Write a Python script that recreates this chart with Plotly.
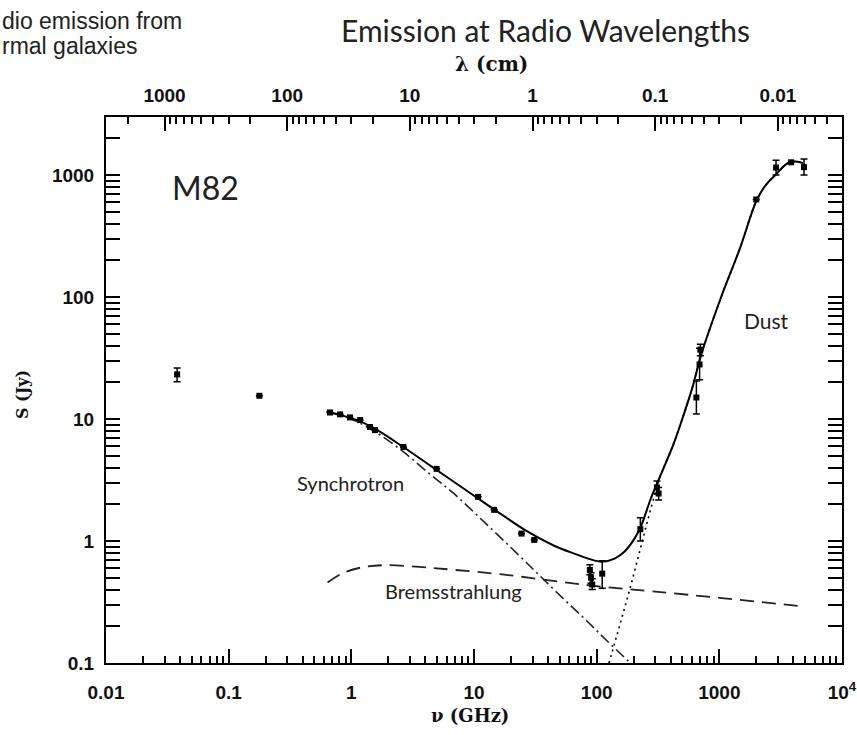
import plotly.graph_objects as go
import math

# ---------------- data ----------------
nu_obs = [0.038, 0.178, 0.67, 0.81, 0.975, 1.18, 1.42, 1.56, 2.66, 4.96, 10.8, 14.6,
          24.4, 31.0, 88, 90, 92, 111, 227, 310, 320, 650, 690, 700, 2000, 2900, 3850, 4900]
s_obs = [23.2, 15.5, 11.3, 10.9, 10.3, 9.8, 8.6, 8.1, 5.9, 3.9, 2.3, 1.8,
         1.15, 1.02, 0.58, 0.50, 0.44, 0.54, 1.25, 2.75, 2.45, 15.0, 28.0, 37.0, 630, 1150, 1270, 1160]
err_plus = [3.0, 0, 0, 0, 0, 0, 0, 0, 0, 0, 0, 0,
            0, 0, 0.06, 0.05, 0.05, 0.15, 0.3, 0.35, 0.3, 5.5, 10, 4, 0, 170, 0, 190]
err_minus = [3.0, 0, 0, 0, 0, 0, 0, 0, 0, 0, 0, 0,
             0, 0, 0.05, 0.05, 0.04, 0.13, 0.25, 0.3, 0.28, 4.0, 7, 4, 0, 150, 0, 160]

nu_total = [0.63, 0.889, 1.18, 1.63, 2.65, 4.43, 6.84, 10.8, 17.7, 27.9, 45.5, 66.4, 86.3,
            110, 140, 169, 204, 231, 277, 332, 420, 502, 601, 719, 1030, 1480, 2010, 2415,
            2900, 3490, 3970, 4810]
s_total = [11.5, 10.5, 9.57, 8.09, 5.89, 4.13, 3.06, 2.23, 1.59, 1.18, 0.91, 0.785, 0.714,
           0.676, 0.718, 0.82, 1.05, 1.34, 2.24, 3.46, 6.1, 10.2, 17.9, 34.8, 98.5, 254, 617, 836,
           1011, 1222, 1295, 1250]

nu_sync = [0.63, 0.975, 1.63, 2.66, 4.43, 6.87, 12.2, 23.2, 34, 52.6, 81.3, 119, 188]
s_sync = [11.5, 10.1, 7.65, 5.37, 3.49, 2.44, 1.42, 0.765, 0.525, 0.342, 0.226, 0.155, 0.1]

nu_brems = [0.64, 0.84, 1.22, 1.88, 3.57, 6.63, 17, 52, 111, 284, 1000, 5000]
s_brems = [0.457, 0.542, 0.608, 0.634, 0.613, 0.582, 0.532, 0.461, 0.422, 0.387, 0.342, 0.29]

nu_dust = [126, 154, 184, 220, 263, 303, 332, 420, 502, 601, 719, 1030, 1480, 2010, 2415,
           2900, 3490, 3970, 4810]
s_dust = [0.1, 0.203, 0.385, 0.762, 1.53, 2.55, 3.46, 6.1, 10.2, 17.9, 34.8, 98.5, 254, 617,
          836, 1011, 1222, 1295, 1250]

nu_ticks = [0.01, 0.1, 1, 10, 100, 1000, 10000]
nu_ticktext = ["0.01", "0.1", "1", "10", "100", "1000", "10<sup>4</sup>"]
s_ticks = [0.1, 1, 10, 100, 1000]
s_ticktext = ["0.1", "1", "10", "100", "1000"]
lam_ticks = [1000, 100, 10, 1, 0.1, 0.01]
lam_ticktext = ["1000", "100", "10", "1", "0.1", "0.01"]

# ---------------- layout geometry ----------------
W, H = 857, 735
L, R, T, B = 106, 15, 117, 72
pw, ph = W - L - R, H - T - B


def px(x):
    return (x - L) / pw


def py(y):
    return (H - B - y) / ph


def minor_vals(e0, e1):
    return [m * 10.0 ** e for e in range(e0, e1) for m in range(2, 10)]


fig = go.Figure()

fig.add_trace(go.Scatter(x=nu_dust, y=s_dust, mode="lines", line_shape="spline",
                         line=dict(color="black", width=1.6, dash="2px,4px"),
                         hoverinfo="skip", showlegend=False))
fig.add_trace(go.Scatter(x=nu_brems, y=s_brems, mode="lines", line_shape="spline",
                         line=dict(color="#222", width=1.8, dash="14px,8px"),
                         hoverinfo="skip", showlegend=False))
fig.add_trace(go.Scatter(x=nu_sync, y=s_sync, mode="lines", line_shape="spline",
                         line=dict(color="#222", width=1.6, dash="11px,4px,2px,4px"),
                         hoverinfo="skip", showlegend=False))
fig.add_trace(go.Scatter(x=nu_total, y=s_total, mode="lines", line_shape="spline",
                         line=dict(color="black", width=2),
                         hoverinfo="skip", showlegend=False))
fig.add_trace(go.Scatter(x=nu_obs, y=s_obs, mode="markers",
                         marker=dict(symbol="square", size=6, color="black"),
                         error_y=dict(type="data", array=err_plus, arrayminus=err_minus,
                                      color="black", thickness=1.5, width=3.5),
                         hoverinfo="skip", showlegend=False))
# invisible trace to carry the top (wavelength) axis
fig.add_trace(go.Scatter(x=lam_ticks, y=[1] * len(lam_ticks), xaxis="x2", mode="markers",
                         marker=dict(opacity=0), hoverinfo="skip", showlegend=False))

tickfont = dict(family="Liberation Sans, Arial, sans-serif", size=19, color="#111",
                weight="bold")
axis_common = dict(showgrid=False, zeroline=False, showline=True, linecolor="black",
                   linewidth=2, ticks="inside", ticklen=14, tickwidth=2, tickcolor="black",
                   tickfont=tickfont, type="log", automargin=False)

fig.update_layout(
    width=W, height=H, margin=dict(l=L, r=R, t=T, b=B, pad=0, autoexpand=False),
    paper_bgcolor="white", plot_bgcolor="white", showlegend=False,
    xaxis=dict(axis_common, range=[-2, 4], tickmode="array", tickvals=nu_ticks,
               ticktext=nu_ticktext, mirror=True, ticklabelstandoff=11,
               minor=dict(ticks="inside", ticklen=7, tickwidth=1.5, tickcolor="black",
                          tickvals=minor_vals(-2, 4))),
    xaxis2=dict(axis_common, overlaying="x", side="top",
                range=[math.log10(3000), math.log10(0.003)], tickmode="array",
                tickvals=lam_ticks, ticktext=lam_ticktext, ticklabelstandoff=5,
                minor=dict(ticks="inside", ticklen=7, tickwidth=1.5, tickcolor="black",
                           tickvals=minor_vals(-3, 4))),
    yaxis=dict(axis_common, range=[-1, 3.475], tickmode="array", tickvals=s_ticks,
               ticktext=s_ticktext, mirror="allticks", ticklabelstandoff=6,
               minor=dict(ticks="inside", ticklen=7, tickwidth=1.5, tickcolor="black",
                          tickvals=minor_vals(-1, 4))),
)

gill = "Lato, 'Open Sans', sans-serif"
serif = "'DejaVu Serif', serif"
ann = [
    dict(text="M82", x=px(205), y=py(187), font=dict(family=gill, size=32, color="#222")),
    dict(text="Dust", x=px(766), y=py(320), font=dict(family=gill, size=21, color="#222")),
    dict(text="Synchrotron", x=px(350), y=py(483), font=dict(family=gill, size=20, color="#222")),
    dict(text="Bremsstrahlung", x=px(453), y=py(591), font=dict(family=gill, size=20, color="#222")),
    dict(text="Emission at Radio Wavelengths", x=px(545), y=py(30),
         font=dict(family=gill, size=30, color="#222")),
    dict(text="<b>λ (cm)</b>", x=px(491), y=py(64), font=dict(family=serif, size=20, color="#111")),
    dict(text="<b>ν (GHz)</b>", x=px(470), y=py(715), font=dict(family=serif, size=18, color="#111")),
    dict(text="<b>S (Jy)</b>", x=px(22), y=py(395), textangle=-90,
         font=dict(family=serif, size=16, color="#111")),
    dict(text="dio emission from", x=px(0), y=py(21), xanchor="left",
         font=dict(family="Liberation Sans, Arial, sans-serif", size=23, color="#222")),
    dict(text="rmal galaxies", x=px(0), y=py(46), xanchor="left",
         font=dict(family="Liberation Sans, Arial, sans-serif", size=23, color="#222")),
]
for a in ann:
    a.setdefault("xanchor", "center")
    a.update(xref="paper", yref="paper", yanchor="middle", showarrow=False)
    fig.add_annotation(**a)

fig.write_html("out.html")
